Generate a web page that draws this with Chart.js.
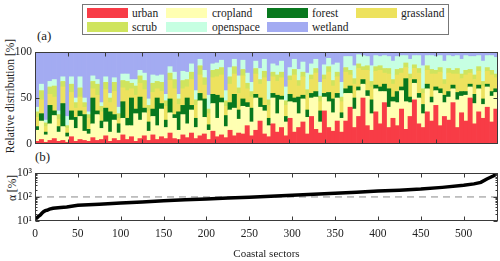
<!DOCTYPE html>
<html>
<head>
<meta charset="utf-8">
<script src="https://cdn.jsdelivr.net/npm/chart.js@4.4.1/dist/chart.umd.min.js"></script>
<style>
  body { margin: 0; width: 500px; height: 261px; position: relative; background: #fff; overflow: hidden;
         font-family: "Liberation Serif", "Times New Roman", serif; color: #222; }
  .box { position: absolute; left: 0; width: 500px; }
  #topBox { top: 42px; height: 112px; }
  #bottomBox { top: 163px; height: 98px; }
  .lab { position: absolute; font-size: 13px; line-height: 15px; }
  .ytitle { position: absolute; font-size: 11.5px; white-space: nowrap; transform: translate(-50%, -50%) rotate(-90deg); }
  #legend { position: absolute; left: 82px; top: 4px; width: 365px; height: 29px; border: 1px solid #777; background: #fff; }
  .sw { position: absolute; width: 41px; height: 10px; }
  .txt { position: absolute; font-size: 11.5px; line-height: 12px; transform: translateY(-50%); }
</style>
</head>
<body>
<div id="legend"></div>
<div class="lab" style="left:37px; top:28px;">(a)</div>
<div class="lab" style="left:35px; top:149px;">(b)</div>
<div class="ytitle" style="left:10px; top:96px;">Relative distribution [%]</div>
<div class="ytitle" style="left:12px; top:188px;">&alpha;&nbsp;[%]</div>
<div class="box" id="topBox"><canvas id="share"></canvas></div>
<div class="box" id="bottomBox"><canvas id="alpha"></canvas></div>
<script>
// Data (a): land cover share [%] per group of 5 coastal sectors
const categories = ['urban', 'cropland', 'forest', 'grassland', 'scrub', 'openspace', 'wetland'];
const urban = [
  3, 5, 2, 4, 6, 3, 4, 2, 8, 3, 5, 4,
  3, 7, 4, 5, 9, 3, 6, 4, 10, 5, 8, 3,
  6, 9, 4, 10, 5, 8, 6, 12, 6, 5, 10, 7,
  12, 6, 9, 11, 5, 14, 8, 10, 7, 15, 9, 12,
  11, 20, 9, 15, 25, 11, 8, 22, 13, 18, 9, 28,
  13, 18, 24, 11, 30, 16, 12, 36, 18, 14, 25, 13,
  25, 40, 18, 30, 50, 20, 15, 35, 22, 45, 18, 28,
  20, 38, 16, 30, 48, 22, 18, 35, 25, 42, 20, 30,
  26, 45, 18, 34, 25, 50, 22, 35, 28, 40, 24, 38
];
const cropland = [
  12, 20, 8, 18, 25, 10, 15, 6, 18, 14, 25, 10,
  8, 15, 28, 12, 15, 10, 20, 8, 18, 15, 12, 30,
  20, 25, 10, 20, 15, 30, 12, 22, 22, 10, 22, 15,
  25, 12, 38, 18, 10, 30, 20, 35, 12, 22, 30, 15,
  30, 20, 15, 35, 15, 25, 12, 28, 20, 30, 15, 18,
  32, 15, 25, 18, 20, 35, 12, 15, 28, 20, 25, 15,
  30, 15, 20, 28, 15, 32, 18, 25, 35, 12, 22, 18,
  25, 20, 30, 15, 18, 28, 15, 25, 20, 16, 35, 15,
  25, 15, 30, 18, 28, 12, 22, 25, 15, 22, 28, 18
];
const forest = [
  4, 8, 3, 20, 5, 6, 25, 4, 10, 12, 6, 18,
  5, 28, 4, 8, 15, 22, 6, 10, 18, 8, 30, 5,
  25, 5, 10, 8, 30, 6, 8, 15, 4, 20, 10, 28,
  5, 10, 8, 20, 6, 10, 25, 5, 12, 8, 15, 10,
  8, 5, 15, 4, 10, 6, 8, 5, 20, 4, 6, 8,
  5, 18, 4, 8, 5, 6, 12, 4, 10, 15, 5, 6,
  5, 8, 12, 4, 5, 6, 15, 4, 5, 8, 20, 5,
  12, 4, 25, 6, 4, 5, 10, 5, 6, 4, 5, 8,
  6, 4, 8, 5, 4, 3, 10, 4, 6, 3, 5, 4
];
const grassland = [
  10, 15, 6, 12, 15, 8, 18, 5, 20, 10, 15, 8,
  12, 10, 17, 10, 20, 10, 25, 6, 15, 30, 10, 15,
  15, 20, 12, 18, 10, 13, 15, 20, 28, 8, 18, 12,
  28, 14, 20, 15, 12, 18, 20, 25, 10, 20, 22, 18,
  25, 15, 12, 22, 15, 30, 14, 18, 15, 20, 12, 15,
  25, 12, 20, 16, 15, 20, 10, 15, 22, 14, 18, 12,
  18, 12, 15, 20, 10, 22, 14, 15, 18, 12, 16, 14,
  18, 15, 12, 20, 12, 22, 12, 15, 25, 14, 18, 12,
  20, 12, 20, 14, 18, 12, 16, 15, 14, 14, 18, 12
];
const scrub = [
  6, 10, 4, 8, 12, 5, 6, 3, 9, 6, 10, 5,
  4, 8, 12, 6, 8, 5, 10, 5, 8, 10, 6, 10,
  8, 10, 6, 10, 8, 10, 6, 8, 10, 6, 9, 8,
  8, 6, 10, 8, 5, 8, 8, 8, 6, 8, 8, 6,
  7, 6, 6, 6, 5, 7, 6, 5, 7, 6, 5, 5,
  6, 6, 5, 6, 5, 5, 6, 5, 6, 6, 5, 5,
  5, 5, 6, 5, 4, 5, 6, 5, 5, 5, 6, 5,
  6, 5, 5, 5, 4, 5, 5, 5, 5, 4, 5, 5,
  5, 4, 6, 5, 5, 4, 5, 5, 5, 4, 5, 4
];
const openspace = [
  5, 7, 3, 6, 7, 4, 5, 10, 8, 5, 12, 5,
  3, 6, 5, 4, 6, 5, 5, 7, 7, 8, 4, 7,
  6, 8, 7, 9, 6, 8, 7, 7, 8, 5, 10, 8,
  9, 10, 7, 8, 15, 7, 7, 8, 11, 10, 8, 13,
  10, 11, 10, 8, 12, 13, 20, 9, 10, 12, 15, 9,
  11, 12, 11, 18, 12, 10, 15, 11, 9, 17, 10, 16,
  12, 15, 14, 10, 12, 10, 17, 12, 10, 14, 13, 20,
  14, 14, 8, 16, 10, 14, 25, 11, 15, 15, 13, 20,
  14, 15, 14, 16, 16, 14, 20, 12, 22, 13, 16, 18
];
const wetland = [
  60, 35, 74, 32, 30, 64, 27, 70, 27, 50, 27, 50,
  65, 26, 30, 55, 27, 45, 28, 60, 24, 24, 30, 30,
  20, 23, 51, 25, 26, 25, 46, 16, 22, 46, 21, 22,
  13, 42, 8, 20, 47, 13, 12, 9, 42, 17, 8, 26,
  9, 23, 33, 10, 18, 8, 32, 13, 15, 10, 38, 17,
  8, 19, 11, 23, 13, 8, 33, 14, 7, 14, 12, 33,
  5, 5, 15, 3, 4, 5, 15, 4, 5, 4, 5, 10,
  5, 4, 4, 8, 4, 4, 15, 4, 4, 5, 4, 10,
  4, 5, 4, 8, 4, 5, 5, 4, 10, 4, 4, 6
];
const shareTicks = [0, 50, 100];

// Data (b): alpha, sorted over the coastal sectors
const alphaSectors = [0, 2, 4, 6, 8, 10, 12, 14, 17, 21, 30, 37, 50, 75, 100, 125, 150, 175, 200, 225, 250,
  275, 300, 325, 350, 375, 400, 425, 450, 475, 500, 512, 520, 527, 535, 540];
const alphaValues = [13, 13.3, 15.5, 17.5, 21, 24.5, 27, 28, 31, 34, 36.5, 38.5, 45, 50, 56, 62, 70, 76, 82, 90, 97,
  108, 118, 130, 143, 158, 175, 192, 212, 250, 305, 350, 405, 560, 760, 1000];
const alphaRef = 100;
const sectorTicks = [0, 50, 100, 150, 200, 250, 300, 350, 400, 450, 500];
const alphaTicks = [10, 100, 1000];
const alphaTickLabels = ['10¹', '10²', '10³'];
const alphaMinor = [20, 30, 40, 50, 60, 70, 80, 90, 200, 300, 400, 500, 600, 700, 800, 900];

const series = [urban, cropland, forest, grassland, scrub, openspace, wetland];
const colors = ['#f83c46', '#ffffb2', '#08781e', '#ede25e', '#cfe45e', '#c6ffe2', '#a3abf2'];
const binWidth = 5;
const sectorBins = urban.map((_, i) => i * binWidth + binWidth / 2);

const serif = '"Liberation Serif", "Times New Roman", serif';
Chart.defaults.font.family = serif;
Chart.defaults.color = '#222';

// Legend
const legend = document.getElementById('legend');
const swX = [4, 83, 184, 273], txX = [49, 129, 229, 318], rowY = [8, 22];
categories.forEach((name, i) => {
  const col = i % 4, row = Math.floor(i / 4);
  const sw = document.createElement('div');
  sw.className = 'sw';
  sw.style.left = swX[col] + 'px';
  sw.style.top = (rowY[row] - 5) + 'px';
  sw.style.background = colors[i];
  legend.appendChild(sw);
  const t = document.createElement('div');
  t.className = 'txt';
  t.style.left = txX[col] + 'px';
  t.style.top = rowY[row] + 'px';
  t.textContent = name;
  legend.appendChild(t);
});

// frame + inward ticks, matlab style
const frameTicks = {
  id: 'frameTicks',
  afterDatasetsDraw(chart, args, opts) {
    const { ctx, chartArea: a, scales } = chart;
    const xs = scales[opts.xScale];
    const L = Math.round(a.left) + 0.5, R = Math.round(a.right) - 0.5;
    const T = Math.round(a.top) + 0.5, B = Math.round(a.bottom) - 0.5;
    ctx.save();
    ctx.strokeStyle = '#3a3a3a';
    ctx.lineWidth = 1;
    ctx.beginPath();
    sectorTicks.forEach(v => {
      const px = Math.round(xs.getPixelForValue(v)) + 0.5;
      ctx.moveTo(px, B); ctx.lineTo(px, B - 4);
      ctx.moveTo(px, T); ctx.lineTo(px, T + 4);
    });
    const yTick = (v, len) => {
      const py = Math.round(scales.y.getPixelForValue(v)) + 0.5;
      ctx.moveTo(L, py); ctx.lineTo(L + len, py);
      ctx.moveTo(R, py); ctx.lineTo(R - len, py);
    };
    opts.major.forEach(v => yTick(v, 4));
    (opts.minor || []).forEach(v => yTick(v, 2));
    ctx.stroke();
    ctx.strokeRect(L, T, R - L, B - T);
    ctx.restore();
  }
};

const tickFont = { family: serif, size: 11.5 };
const yCommon = {
  afterFit: s => { s.width = 35; },
  grid: { display: false, drawTicks: false },
  border: { display: false },
  ticks: { padding: 3, font: tickFont, color: '#222' }
};

new Chart(document.getElementById('share'), {
  type: 'bar',
  data: {
    labels: sectorBins,
    datasets: categories.map((name, k) => ({
      label: name,
      data: series[k],
      backgroundColor: colors[k],
      borderWidth: 0,
      barPercentage: 1,
      categoryPercentage: 1
    }))
  },
  options: {
    responsive: true, maintainAspectRatio: false, animation: false,
    layout: { padding: { top: 8, bottom: 8, left: 0, right: 2 } },
    plugins: { legend: { display: false }, tooltip: { enabled: false },
      frameTicks: { major: [50], xScale: 'xs' } },
    scales: {
      x: { type: 'category', stacked: true, display: false },
      xs: { type: 'linear', axis: 'x', position: 'bottom', min: 0, max: 540, display: false },
      y: Object.assign({}, yCommon, {
        stacked: true, min: 0, max: 100,
        afterBuildTicks: s => { s.ticks = shareTicks.map(v => ({ value: v })); }
      })
    }
  },
  plugins: [frameTicks]
});

new Chart(document.getElementById('alpha'), {
  type: 'line',
  data: {
    datasets: [
      {
        data: alphaSectors.map((x, i) => ({ x: x, y: alphaValues[i] })),
        borderColor: '#000', borderWidth: 3.5, pointRadius: 0, tension: 0, order: 1
      },
      {
        data: [{ x: 0, y: alphaRef }, { x: 540, y: alphaRef }],
        borderColor: '#8a8a8a', borderWidth: 1, borderDash: [7, 5], pointRadius: 0, order: 2
      }
    ]
  },
  options: {
    responsive: true, maintainAspectRatio: false, animation: false,
    layout: { padding: { top: 9, bottom: 0, left: 0, right: 2 } },
    plugins: { legend: { display: false }, tooltip: { enabled: false },
      frameTicks: { major: alphaTicks, minor: alphaMinor, xScale: 'x' } },
    scales: {
      x: {
        type: 'linear', min: 0, max: 540,
        afterBuildTicks: s => { s.ticks = sectorTicks.map(v => ({ value: v })); },
        grid: { display: false, drawTicks: false },
        border: { display: false },
        ticks: { padding: 6, font: tickFont, color: '#222', maxRotation: 0 },
        title: { display: true, text: 'Coastal sectors', font: { family: serif, size: 11 }, padding: { top: 1, bottom: 0 } }
      },
      y: Object.assign({}, yCommon, {
        type: 'logarithmic', min: 10, max: 1000,
        afterBuildTicks: s => { s.ticks = alphaTicks.map(v => ({ value: v })); },
        ticks: { padding: 3, font: tickFont, color: '#222',
          callback: v => alphaTickLabels[alphaTicks.indexOf(v)] }
      })
    }
  },
  plugins: [frameTicks]
});
</script>
</body>
</html>
